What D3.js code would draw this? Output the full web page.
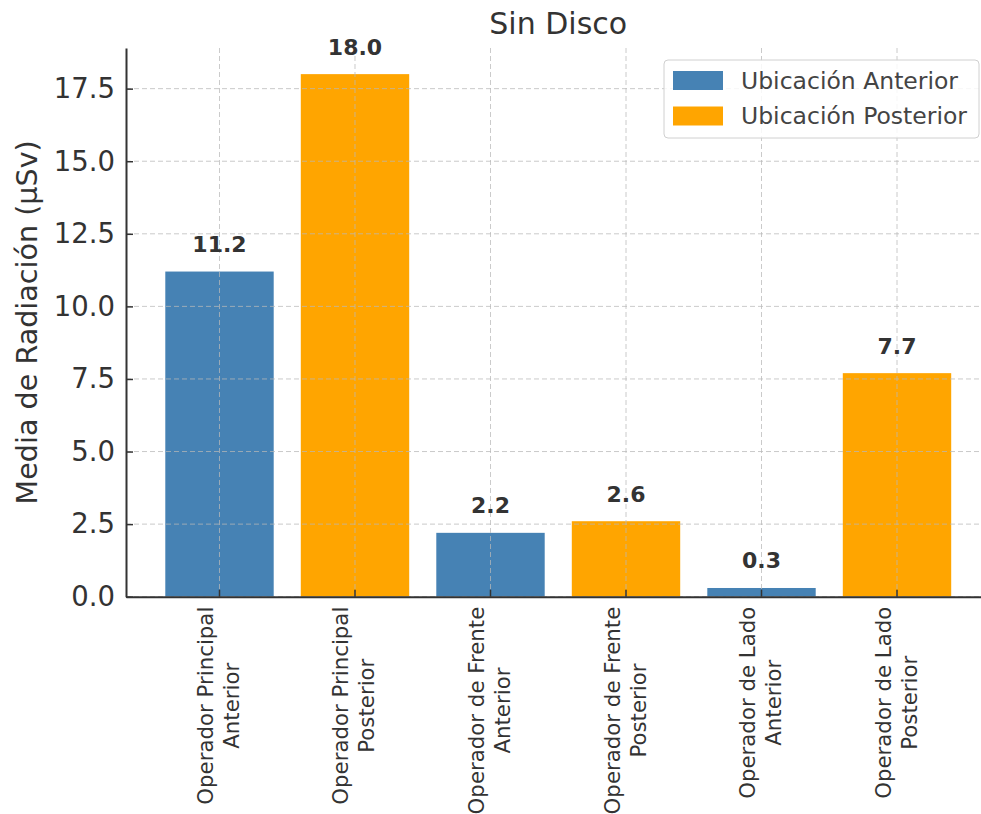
<!DOCTYPE html>
<html>
<head>
<meta charset="utf-8">
<script src="https://cdn.jsdelivr.net/npm/d3@7"></script>
<style>
  html, body { margin: 0; padding: 0; background: #fff; }
  svg { display: block; font-family: "DejaVu Sans", sans-serif; }
</style>
</head>
<body>
<svg id="chart" width="981" height="814"></svg>
<script>
// ---- data ----
const categories = [
  ["Operador Principal", "Anterior"],
  ["Operador Principal", "Posterior"],
  ["Operador de Frente", "Anterior"],
  ["Operador de Frente", "Posterior"],
  ["Operador de Lado", "Anterior"],
  ["Operador de Lado", "Posterior"]
];
const values = [11.2, 18.0, 2.2, 2.6, 0.3, 7.7];
const seriesOf = ["Ubicación Anterior", "Ubicación Posterior", "Ubicación Anterior", "Ubicación Posterior", "Ubicación Anterior", "Ubicación Posterior"];
const legendLabels = ["Ubicación Anterior", "Ubicación Posterior"];
const legendColors = ["#4682B4", "#FFA500"];
const yTicks = [0, 2.5, 5, 7.5, 10, 12.5, 15, 17.5];
const titleText = "Sin Disco";
const yLabelText = "Media de Radiación (µSv)";

// ---- layout ----
const svg = d3.select("#chart");
const pLeft = 126, pRight = 990.5, pTop = 48, pBottom = 596.7;
const keys = categories.map(c => c.join(" "));
const x = d3.scaleBand().domain(keys).range([pLeft, pRight]).paddingInner(0.2).paddingOuter(0.29);
const y = d3.scaleLinear().domain([0, 18.9]).range([pBottom, pTop]);
const color = d3.scaleOrdinal().domain(legendLabels).range(legendColors);
const textCol = "#333";

// bars
svg.append("g").selectAll("rect").data(values).join("rect")
  .attr("x", (d, i) => x(keys[i]))
  .attr("y", d => y(d))
  .attr("width", x.bandwidth())
  .attr("height", d => y(0) - y(d))
  .attr("fill", (d, i) => color(seriesOf[i]));

// grid (drawn over bars, semi-transparent)
const grid = svg.append("g").attr("stroke", "#b8b8b8").attr("stroke-opacity", 0.75)
  .attr("stroke-width", 1).attr("stroke-dasharray", "5,3");
grid.selectAll("line.h").data(yTicks).join("line").attr("class", "h")
  .attr("x1", pLeft).attr("x2", pRight).attr("y1", d => y(d)).attr("y2", d => y(d));
grid.selectAll("line.v").data(keys).join("line").attr("class", "v")
  .attr("x1", d => x(d) + x.bandwidth() / 2).attr("x2", d => x(d) + x.bandwidth() / 2)
  .attr("y1", pTop).attr("y2", pBottom);

// y axis
const yAxis = svg.append("g").attr("transform", `translate(${pLeft},0)`)
  .call(d3.axisLeft(y).tickValues(yTicks).tickFormat(d3.format(".1f"))
    .tickSizeInner(-7).tickSizeOuter(0).tickPadding(11));
yAxis.select(".domain").attr("stroke", "#333").attr("stroke-width", 2);
yAxis.selectAll(".tick line").attr("stroke", "#333").attr("stroke-width", 1.5);
yAxis.selectAll(".tick text").attr("font-size", 27.5).attr("fill", textCol)
  .attr("font-family", "DejaVu Sans");

// x axis
const xAxis = svg.append("g").attr("transform", `translate(0,${pBottom})`)
  .call(d3.axisBottom(x).tickSizeInner(-7).tickSizeOuter(0).tickFormat(""));
xAxis.select(".domain").attr("stroke", "#333").attr("stroke-width", 2);
xAxis.selectAll(".tick line").attr("stroke", "#333").attr("stroke-width", 1.5);

// category labels (rotated, two centered lines)
const catG = svg.append("g");
categories.forEach((lines, i) => {
  const cx = x(keys[i]) + x.bandwidth() / 2;
  const g = catG.append("g").attr("transform", `translate(${cx},${pBottom + 10}) rotate(-90)`);
  const texts = lines.map((ln, j) => g.append("text")
    .attr("font-size", 21.3).attr("fill", textCol)
    .attr("dominant-baseline", "central")
    .attr("text-anchor", "middle")
    .attr("y", j === 0 ? -14 : 12)
    .text(ln));
  const maxW = d3.max(texts, t => t.node().getComputedTextLength());
  texts.forEach(t => t.attr("x", -maxW / 2));
});

// value labels
svg.append("g").selectAll("text").data(values).join("text")
  .attr("x", (d, i) => x(keys[i]) + x.bandwidth() / 2)
  .attr("y", d => y(d + 0.5) - 5)
  .attr("text-anchor", "middle")
  .attr("font-size", 22).attr("font-weight", "bold").attr("fill", textCol)
  .text(d => d.toFixed(1));

// title
svg.append("text").attr("x", (pLeft + pRight) / 2).attr("y", 34)
  .attr("text-anchor", "middle").attr("font-size", 30).attr("fill", textCol)
  .text(titleText);

// y label
svg.append("text").attr("transform", `translate(37,${(pTop + pBottom) / 2}) rotate(-90)`)
  .attr("text-anchor", "middle").attr("font-size", 28.6).attr("fill", textCol)
  .text(yLabelText);

// legend
const lg = svg.append("g");
lg.append("rect").attr("x", 664).attr("y", 60).attr("width", 315).attr("height", 78)
  .attr("rx", 4).attr("fill", "#fff").attr("fill-opacity", 0.85)
  .attr("stroke", "#d0d0d0").attr("stroke-width", 1);
legendLabels.forEach((lab, i) => {
  const yy = 71 + i * 35.5;
  lg.append("rect").attr("x", 673).attr("y", yy).attr("width", 50).attr("height", 19)
    .attr("fill", legendColors[i]);
  lg.append("text").attr("x", 741).attr("y", yy + 17.5)
    .attr("font-size", 23.5).attr("fill", "#444").text(lab);
});
</script>
</body>
</html>
